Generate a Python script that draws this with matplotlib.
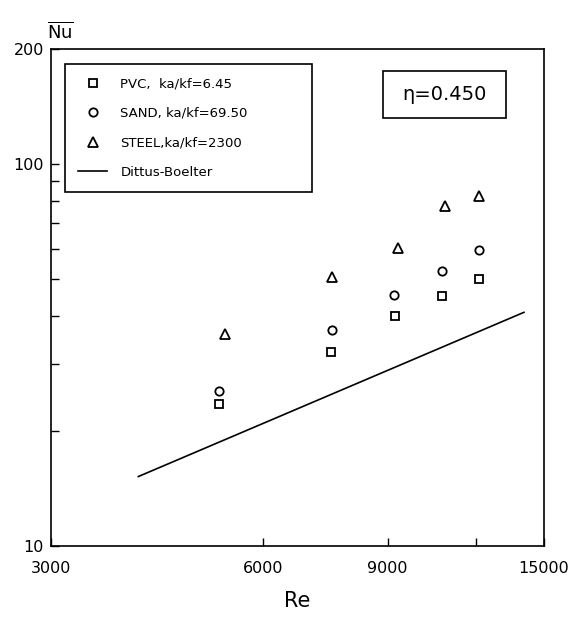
import matplotlib
matplotlib.use("Agg")
import matplotlib.pyplot as plt
from matplotlib.ticker import FixedLocator, FixedFormatter, NullLocator
from matplotlib.patches import Rectangle

plt.rcParams['font.family'] = ['DejaVu Sans']
plt.rcParams['mathtext.fontset'] = 'dejavusans'

# ---- data ----
re_pvc = [5200, 7480, 9220, 10750, 12140]
nu_pvc = [23.6, 32.2, 40.1, 45.2, 50.0]
re_sand = [5200, 7500, 9200, 10750, 12120]
nu_sand = [25.4, 36.8, 45.5, 52.6, 59.4]
re_steel = [5290, 7520, 9300, 10860, 12150]
nu_steel = [35.9, 50.5, 60.2, 77.6, 82.6]
re_db = [3990, 14050]
nu_db = [15.2, 40.9]

labels = ["PVC,  ka/kf=6.45", "SAND, ka/kf=69.50", "STEEL,ka/kf=2300", "Dittus-Boelter"]
x_ticks = [3000, 6000, 9000, 12000, 15000]
x_ticklabels = ["3000", "6000", "9000", "", "15000"]
y_ticks = [10, 20, 30, 40, 50, 60, 70, 80, 90, 100, 200]
y_ticklabels = ["10", "", "", "", "", "", "", "", "", "100", "200"]
eta_text = "η=0.450"

W, H = 573, 618
fig = plt.figure(figsize=(W / 100, H / 100), dpi=100)
L, R, B, T = 51, 544, 546, 49
ax = fig.add_axes([L / W, (H - B) / H, (R - L) / W, (B - T) / H])

def ax_x(px):
    return (px - L) / (R - L)

def ax_y(py):
    return (B - py) / (B - T)

mk = dict(linestyle='none', color='black', markerfacecolor='none', markeredgewidth=1.3)
ax.plot(re_pvc, nu_pvc, marker='s', markersize=5.5, label=labels[0], **mk)
ax.plot(re_sand, nu_sand, marker='o', markersize=6, label=labels[1], **mk)
ax.plot(re_steel, nu_steel, marker='^', markersize=6.5, label=labels[2], **mk)
ax.plot(re_db, nu_db, color='black', linewidth=1.2, label=labels[3])

ax.set_xscale('log')
ax.set_yscale('log')
ax.set_xlim(3000, 15000)
ax.set_ylim(10, 200)

ax.xaxis.set_major_locator(FixedLocator(x_ticks))
ax.xaxis.set_major_formatter(FixedFormatter(x_ticklabels))
ax.xaxis.set_minor_locator(NullLocator())
ax.yaxis.set_major_locator(FixedLocator(y_ticks))
ax.yaxis.set_major_formatter(FixedFormatter(y_ticklabels))
ax.yaxis.set_minor_locator(NullLocator())

ax.tick_params(axis='x', direction='in', length=6, width=1, pad=11, labelsize=11.5)
ax.tick_params(axis='y', direction='in', length=6, width=1, pad=5, labelsize=11.5)
for s in ax.spines.values():
    s.set_linewidth(1.2)
    s.set_color('black')

ax.set_xlabel("Re", fontsize=15)
ax.xaxis.set_label_coords(0.5, -0.111)
ax.xaxis.label.set_va('center')
ax.set_ylabel(r"$\overline{\mathrm{Nu}}$", fontsize=13, rotation=0)
ax.yaxis.set_label_coords(0.02, 1.035)
ax.yaxis.label.set_va('center')
ax.yaxis.label.set_ha('center')

leg = ax.legend(loc='upper left', bbox_to_anchor=(ax_x(65), ax_y(197), ax_x(312) - ax_x(65), ax_y(64) - ax_y(197)),
                mode='expand', fontsize=9.5, frameon=True, fancybox=False, framealpha=1,
                edgecolor='black', borderpad=1.0, labelspacing=1.25,
                handlelength=2.2, handletextpad=1.0, borderaxespad=0)
leg.get_frame().set_linewidth(1.2)

# eta annotation box
ax.add_patch(Rectangle((ax_x(383), ax_y(118)), ax_x(506) - ax_x(383), ax_y(71) - ax_y(118),
                       transform=ax.transAxes, facecolor='white', edgecolor='black',
                       linewidth=1.2, zorder=4))
ax.text(ax_x(444.5), ax_y(95), eta_text, transform=ax.transAxes,
        fontsize=14, ha='center', va='center', zorder=5)

fig.savefig("out.png", dpi=100)
